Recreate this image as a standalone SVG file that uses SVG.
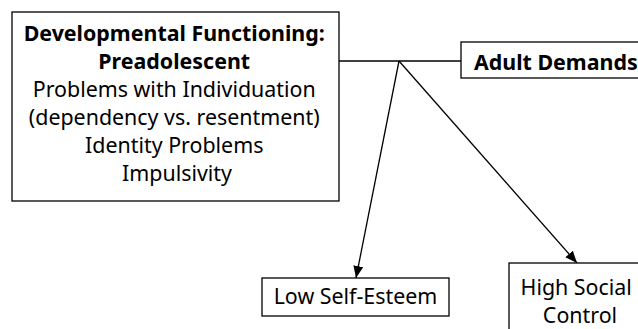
<svg xmlns="http://www.w3.org/2000/svg" width="638" height="329" viewBox="0 0 638 329">
  <style>
    .box { fill: #fff; stroke: #000; stroke-width: 1.3; }
    .t { font-family: "Noto Sans", "Liberation Sans", sans-serif; font-size: 21.4px; fill: #000; }
    .b { font-weight: bold; }
    .link { stroke: #000; stroke-width: 1.3; fill: none; }
  </style>
  <defs>
    <marker id="arrow" viewBox="0 0 12 10" refX="12" refY="5" markerWidth="12" markerHeight="10" markerUnits="userSpaceOnUse" orient="auto">
      <path d="M0,0 L12,5 L0,10 Z" fill="#000"/>
    </marker>
  </defs>

  <g id="connectors">
    <line class="link" x1="339" y1="61" x2="461" y2="61"/>
    <line class="link" x1="399" y1="61" x2="356" y2="278" marker-end="url(#arrow)"/>
    <line class="link" x1="399" y1="61" x2="577" y2="263" marker-end="url(#arrow)"/>
  </g>

  <g id="developmental-functioning">
    <rect class="box" x="12" y="12" width="327" height="189"/>
    <text class="t" text-anchor="middle">
      <tspan class="b" x="177" y="41">Developmental Functioning:</tspan>
      <tspan class="b" x="177" y="69">Preadolescent</tspan>
      <tspan x="177" y="97">Problems with Individuation</tspan>
      <tspan x="177" y="125">(dependency vs. resentment)</tspan>
      <tspan x="177" y="153">Identity Problems</tspan>
      <tspan x="177" y="181">Impulsivity</tspan>
    </text>
  </g>

  <g id="adult-demands">
    <rect class="box" x="461" y="42" width="200" height="36"/>
    <text class="t b" x="474" y="70">Adult Demands</text>
  </g>

  <g id="low-self-esteem">
    <rect class="box" x="262" y="278" width="187" height="38"/>
    <text class="t" x="355.5" y="304" text-anchor="middle">Low Self-Esteem</text>
  </g>

  <g id="high-social-control">
    <rect class="box" x="509" y="263" width="142" height="80"/>
    <text class="t" text-anchor="middle">
      <tspan x="579" y="295">High Social</tspan>
      <tspan x="580" y="323">Control</tspan>
    </text>
  </g>
</svg>
